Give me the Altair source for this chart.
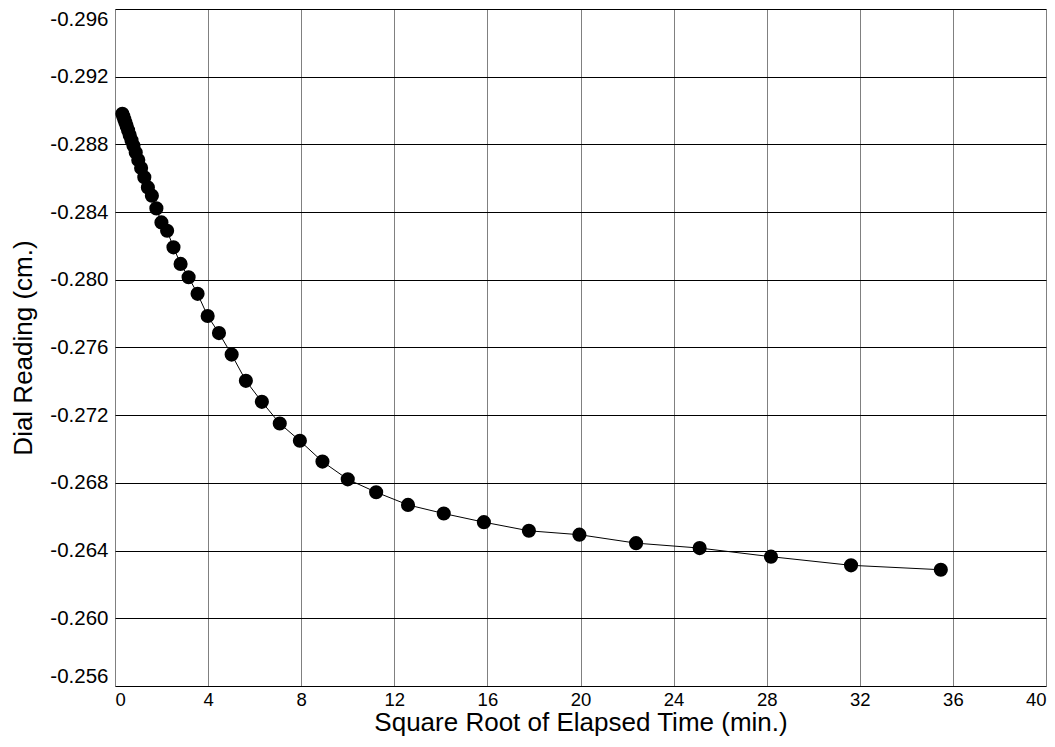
import altair as alt
import pandas as pd

# Square root of elapsed time (min.)
sqrt_time = [0.316, 0.355, 0.398, 0.447, 0.501, 0.562, 0.631, 0.708, 0.794, 0.891,
             1.000, 1.122, 1.259, 1.413, 1.585, 1.778, 1.995, 2.239, 2.512, 2.818,
             3.162, 3.548, 3.981, 4.467, 5.012, 5.623, 6.310, 7.079, 7.943, 8.913,
             10.000, 11.220, 12.589, 14.125, 15.849, 17.783, 19.953, 22.387, 25.119,
             28.184, 31.623, 35.481]
# Dial reading (cm.)
dial = [-0.28981, -0.28966, -0.28949, -0.28929, -0.28908, -0.28883, -0.28856, -0.28825,
        -0.28792, -0.28752, -0.28708, -0.28660, -0.28606, -0.28546, -0.28497, -0.28422,
        -0.28339, -0.28290, -0.28192, -0.28094, -0.28015, -0.27917, -0.27786, -0.27685,
        -0.27558, -0.27403, -0.27279, -0.27151, -0.27049, -0.26926, -0.26821, -0.26745,
        -0.26670, -0.26619, -0.26568, -0.26517, -0.26494, -0.26444, -0.26415, -0.26364,
        -0.26313, -0.26287]

x_ticks = [0, 4, 8, 12, 16, 20, 24, 28, 32, 36, 40]
y_ticks = [-0.296, -0.292, -0.288, -0.284, -0.280, -0.276, -0.272, -0.268,
           -0.264, -0.260, -0.256]

df = pd.DataFrame({"x": sqrt_time, "y": dial})

FONT = "Liberation Sans"

xenc = alt.X("x:Q",
             scale=alt.Scale(domain=[0, 40], nice=False, zero=False),
             axis=alt.Axis(values=x_ticks, title="Square Root of Elapsed Time (min.)",
                           grid=True, gridColor="#808080", gridWidth=1,
                           domain=False, ticks=False, labelFlush=True,
                           labelPadding=4, labelFontSize=18.5, labelFont=FONT,
                           labelColor="black", titleFont=FONT, titleFontSize=26,
                           titleFontWeight="normal", titleColor="black",
                           titlePadding=1, labelOverlap=False))
yenc = alt.Y("y:Q",
             scale=alt.Scale(domain=[-0.296, -0.256], reverse=True, nice=False, zero=False),
             axis=alt.Axis(values=y_ticks, title="Dial Reading (cm.)",
                           labelExpr="'-' + format(abs(datum.value), '.3f')",
                           grid=True, gridColor="black", gridWidth=1,
                           domain=False, ticks=False, labelFlush=True,
                           labelPadding=7, labelFontSize=20.5, labelFont=FONT,
                           labelColor="black", titleFont=FONT, titleFontSize=26,
                           titleFontWeight="normal", titleColor="black",
                           titlePadding=13, labelOverlap=False))

base = alt.Chart(df)
line = base.mark_line(color="black", strokeWidth=1).encode(x=xenc, y=yenc)
pts = base.mark_circle(color="black", size=200, opacity=1).encode(x="x:Q", y="y:Q")

chart = (line + pts).properties(
    width=931, height=677,
    autosize=alt.AutoSizeParams(type="none"),
    padding={"left": 107, "top": 1, "right": 1, "bottom": 50},
).configure_view(stroke="black", strokeWidth=2).configure(background="white")

chart.save("out.html", embed_options={"renderer": "svg", "actions": False})
